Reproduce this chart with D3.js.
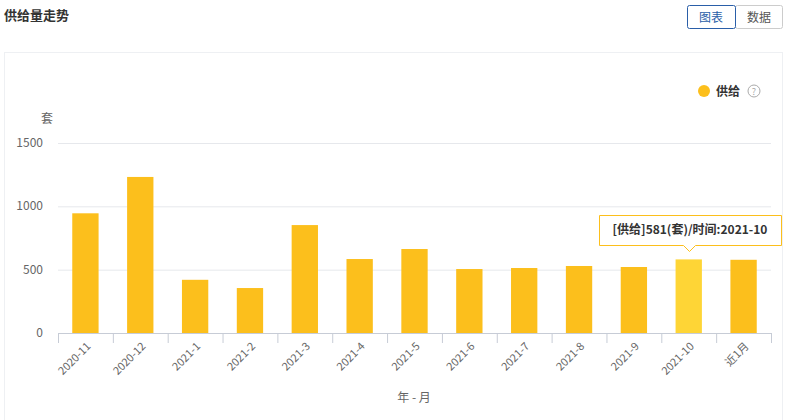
<!DOCTYPE html>
<html><head><meta charset="utf-8">
<script src="https://cdn.jsdelivr.net/npm/d3@7"></script>
<style>
body{margin:0;background:#fff;font-family:"Noto Sans CJK SC","Microsoft YaHei",sans-serif;}
</style></head>
<body><div id="chart"></div>
<script>
const categories = ['2020-11','2020-12','2021-1','2021-2','2021-3','2021-4','2021-5','2021-6','2021-7','2021-8','2021-9','2021-10','近1月'];
const supply = [945, 1232, 420, 355, 852, 584, 663, 505, 513, 529, 521, 581, 578];
const yTicks = [0, 500, 1000, 1500];
const highlight = 11;

const W = 787, H = 420;
const svg = d3.select('#chart').append('svg').attr('width', W).attr('height', H);
const font = '"Noto Sans CJK SC",sans-serif';

svg.append('text').attr('x', 4).attr('y', 20).attr('font-size', 13).attr('font-weight', 'bold')
  .attr('fill', '#333').attr('font-family', font).text('供给量走势');

// toggle buttons
svg.append('rect').attr('x', 735.5).attr('y', 5.5).attr('width', 47).attr('height', 23).attr('rx', 2)
  .attr('fill', '#fff').attr('stroke', '#ccc');
svg.append('rect').attr('x', 687.5).attr('y', 5.5).attr('width', 48).attr('height', 23).attr('rx', 2)
  .attr('fill', '#fff').attr('stroke', '#2a5ea8');
svg.append('text').attr('x', 711).attr('y', 22).attr('text-anchor', 'middle').attr('font-size', 12)
  .attr('fill', '#2a5ea8').attr('font-family', font).text('图表');
svg.append('text').attr('x', 759).attr('y', 22).attr('text-anchor', 'middle').attr('font-size', 12)
  .attr('fill', '#555').attr('font-family', font).text('数据');

// panel
svg.append('rect').attr('x', 4.5).attr('y', 52.5).attr('width', 778).attr('height', 380)
  .attr('fill', 'none').attr('stroke', '#eef0f3');

const m = {l: 58, r: 771, t: 143, b: 333};
const x = d3.scaleBand().domain(categories).range([m.l, m.r]).paddingInner(0.52).paddingOuter(0.26);
const y = d3.scaleLinear().domain([0, 1500]).range([m.b, m.t]);

svg.append('g').selectAll('line').data(yTicks.slice(1)).enter().append('line')
  .attr('x1', m.l).attr('x2', m.r).attr('y1', d => y(d) + 0.5).attr('y2', d => y(d) + 0.5)
  .attr('stroke', '#e6e8ec');
svg.append('g').selectAll('text').data(yTicks).enter().append('text')
  .attr('x', 43).attr('y', d => y(d) + 4).attr('text-anchor', 'end').attr('font-size', 12)
  .attr('fill', '#666').attr('font-family', font).text(d => d);
svg.append('text').attr('x', 47).attr('y', 123).attr('text-anchor', 'middle').attr('font-size', 12)
  .attr('fill', '#666').attr('font-family', font).text('套');

svg.append('g').selectAll('rect').data(supply).enter().append('rect')
  .attr('x', (d, i) => x(categories[i])).attr('width', x.bandwidth())
  .attr('y', d => y(d)).attr('height', d => y(0) - y(d))
  .attr('fill', (d, i) => i === highlight ? '#fed536' : '#fcbf1c');

const step = x.step();
const ax = svg.append('g');
ax.append('line').attr('x1', m.l).attr('x2', m.r).attr('y1', m.b + 0.5).attr('y2', m.b + 0.5).attr('stroke', '#c7ccd6');
ax.selectAll('line.t').data(d3.range(categories.length + 1)).enter().append('line')
  .attr('x1', i => m.l + i * step + 0.5).attr('x2', i => m.l + i * step + 0.5)
  .attr('y1', m.b).attr('y2', m.b + 10).attr('stroke', '#c7ccd6');
ax.selectAll('text').data(categories).enter().append('text')
  .attr('transform', d => `translate(${x(d) + x.bandwidth() / 2 + 6},${m.b + 14}) rotate(-45)`)
  .attr('text-anchor', 'end').attr('font-size', 11).attr('fill', '#666').attr('font-family', font).text(d => d);
svg.append('text').attr('x', 414).attr('y', 402).attr('text-anchor', 'middle').attr('font-size', 12)
  .attr('fill', '#666').attr('font-family', font).text('年 - 月');

// legend
svg.append('circle').attr('cx', 704).attr('cy', 91).attr('r', 6).attr('fill', '#fcbf1c');
svg.append('text').attr('x', 716).attr('y', 96).attr('font-size', 12).attr('font-weight', 'bold')
  .attr('fill', '#333').attr('font-family', font).text('供给');
svg.append('circle').attr('cx', 754).attr('cy', 91).attr('r', 6).attr('fill', 'none').attr('stroke', '#aaa');
svg.append('text').attr('x', 754).attr('y', 95).attr('text-anchor', 'middle').attr('font-size', 9)
  .attr('fill', '#aaa').attr('font-family', font).text('?');

// tooltip
const hx = Math.round(x(categories[highlight]) + x.bandwidth() / 2), hy = y(supply[highlight]);
const tw = 182, th = 30, tx = hx - 90, ty = Math.round(hy - 44);
svg.append('path').attr('d', `M${tx},${ty}h${tw}v${th}H${hx + 6}l-6,6l-6,-6H${tx}Z`)
  .attr('transform', 'translate(0.5,0.5)')
  .attr('fill', '#fff').attr('stroke', '#fcbf1c');
svg.append('text').attr('x', tx + tw / 2).attr('y', ty + 19).attr('text-anchor', 'middle')
  .attr('font-size', 12).attr('font-weight', 'bold').attr('fill', '#333').attr('font-family', font)
  .text(`[供给]${supply[highlight]}(套)/时间:${categories[highlight]}`);
</script></body></html>
